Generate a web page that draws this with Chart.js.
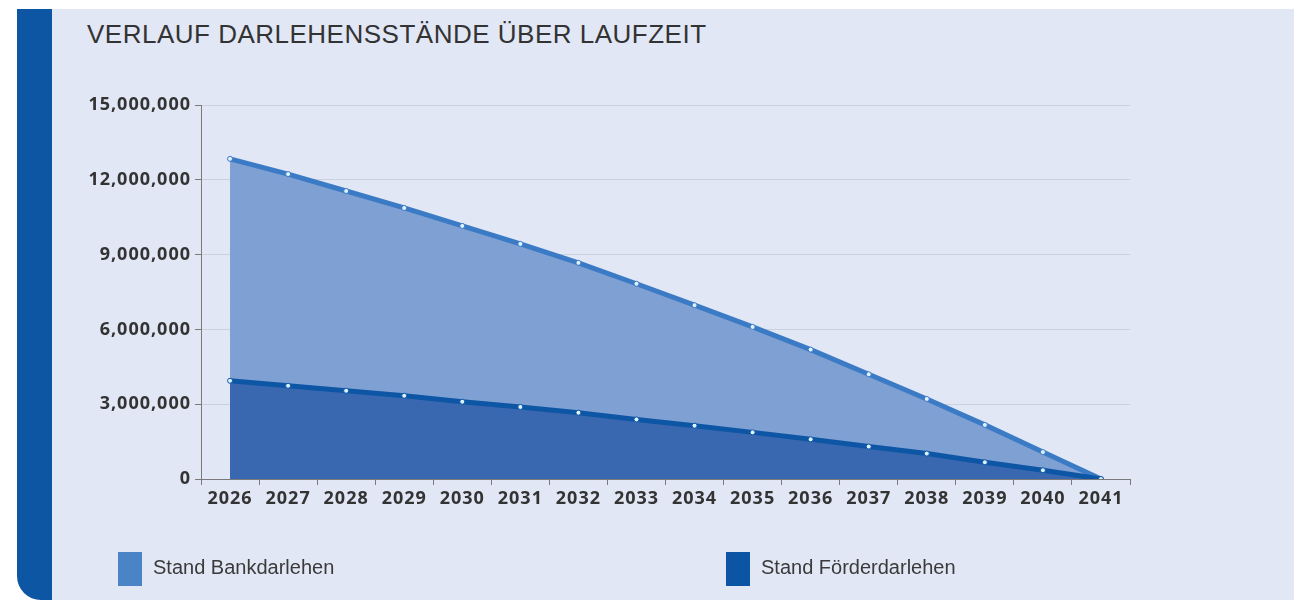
<!DOCTYPE html>
<html lang="de">
<head>
<meta charset="utf-8">
<title>Verlauf Darlehensstände über Laufzeit</title>
<script src="https://cdn.jsdelivr.net/npm/chart.js"></script>
<style>
    html, body {
        margin: 0;
        padding: 0;
        width: 1294px;
        height: 600px;
        overflow: hidden;
        background: #ffffff;
        font-family: "Liberation Sans", Arial, sans-serif;
    }
    .frame {
        position: absolute;
        left: 17px;
        top: 9px;
        width: 1277px;
        height: 591px;
        background: #0c56a4;
        border-bottom-left-radius: 24px;
        overflow: hidden;
    }
    .panel {
        position: absolute;
        left: 35px;
        top: 0;
        right: 0;
        bottom: 0;
        background: #e2e7f5;
    }
    .title {
        position: absolute;
        left: 87px;
        top: 21px;
        font-size: 26px;
        line-height: 26px;
        letter-spacing: 0.5px;
        color: #333333;
        white-space: nowrap;
    }
    #chartWrap {
        position: absolute;
        left: 0;
        top: 0;
        width: 1294px;
        height: 600px;
    }
    .legend-item {
        position: absolute;
        top: 552px;
        height: 34px;
    }
    .legend-item .swatch {
        position: absolute;
        left: 0;
        top: 0;
        width: 24px;
        height: 34px;
    }
    .legend-item .label {
        position: absolute;
        left: 35px;
        top: 5px;
        font-size: 20px;
        line-height: 20px;
        color: #3a3a3a;
        white-space: nowrap;
    }
</style>
</head>
<body>
<div class="frame"><div class="panel"></div></div>
<div class="title">VERLAUF DARLEHENSSTÄNDE ÜBER LAUFZEIT</div>
<div id="chartWrap"><canvas id="loanChart"></canvas></div>
<div id="legend"></div>

<script>
// Jahre der Laufzeit
const years = ["2026", "2027", "2028", "2029", "2030", "2031", "2032", "2033",
               "2034", "2035", "2036", "2037", "2038", "2039", "2040", "2041"];

// Restschuld Bankdarlehen (EUR)
const bankLoan = [12840000, 12230000, 11550000, 10870000, 10150000, 9430000, 8670000, 7830000,
                  6970000, 6100000, 5190000, 4200000, 3210000, 2170000, 1080000, 0];

// Restschuld Förderdarlehen (EUR)
const promoLoan = [3940000, 3740000, 3540000, 3340000, 3100000, 2890000, 2660000, 2390000,
                   2140000, 1870000, 1590000, 1300000, 1020000, 670000, 350000, 0];

// Achsenbeschriftung y
const yTicks = [0, 3000000, 6000000, 9000000, 12000000, 15000000];

const legendItems = [
    { text: "Stand Bankdarlehen", color: "#4a84c7", left: 118 },
    { text: "Stand Förderdarlehen", color: "#0b55a4", left: 726 }
];

const tickFont = { family: "'Open Sans', sans-serif", size: 18, weight: "bold" };

document.addEventListener("DOMContentLoaded", () => {
    buildLegend();
    drawChart();
});

// Legende unter dem Diagramm
function buildLegend() {
    const container = document.getElementById("legend");
    legendItems.forEach(item => {
        const el = document.createElement("div");
        el.className = "legend-item";
        el.style.left = item.left + "px";
        el.innerHTML = `
            <div class="swatch" style="background:${item.color}"></div>
            <div class="label">${item.text}</div>
        `;
        container.appendChild(el);
    });
}

// etwas breiter laufende Achsenschrift
const wideTicks = {
    id: "wideTicks",
    beforeDraw(chart) {
        chart.ctx.letterSpacing = "1px";
    }
};

function drawChart() {
    const ctx = document.getElementById("loanChart").getContext("2d");

    new Chart(ctx, {
        type: "line",
        data: {
            labels: years,
            datasets: [
                {
                    label: "Stand Bankdarlehen",
                    data: bankLoan,
                    order: 2,
                    fill: "origin",
                    backgroundColor: "#7fa0d2",
                    borderColor: "#3b7bc5",
                    borderWidth: 5,
                    tension: 0,
                    pointRadius: 2.5,
                    pointBorderWidth: 1,
                    pointBackgroundColor: "#dff2ff",
                    pointBorderColor: "#3b7bc5"
                },
                {
                    label: "Stand Förderdarlehen",
                    data: promoLoan,
                    order: 1,
                    fill: "origin",
                    backgroundColor: "#3a68b0",
                    borderColor: "#0d56a5",
                    borderWidth: 5,
                    tension: 0,
                    pointRadius: 2.5,
                    pointBorderWidth: 1,
                    pointBackgroundColor: "#dff2ff",
                    pointBorderColor: "#0d56a5"
                }
            ]
        },
        plugins: [wideTicks],
        options: {
            responsive: true,
            maintainAspectRatio: false,
            animation: false,
            layout: {
                padding: { left: 0, top: 105, right: 164, bottom: 81 }
            },
            plugins: {
                legend: { display: false },
                tooltip: { enabled: false }
            },
            scales: {
                x: {
                    type: "category",
                    offset: true,
                    afterFit: scale => { scale.height = 40; },
                    grid: {
                        offset: true,
                        drawOnChartArea: false,
                        drawTicks: true,
                        tickLength: 6,
                        tickColor: "#7a7a7a"
                    },
                    border: { color: "#7a7a7a", width: 1 },
                    ticks: {
                        color: "#333333",
                        font: tickFont,
                        padding: 3,
                        maxRotation: 0,
                        autoSkip: false
                    }
                },
                y: {
                    min: 0,
                    max: 15000000,
                    afterFit: scale => { scale.width = 201; },
                    afterBuildTicks: axis => {
                        axis.ticks = yTicks.map(v => ({ value: v }));
                    },
                    grid: {
                        color: "#cbd0dd",
                        lineWidth: 1,
                        drawTicks: true,
                        tickLength: 6,
                        tickColor: "#7a7a7a"
                    },
                    border: { color: "#7a7a7a", width: 1 },
                    ticks: {
                        color: "#333333",
                        font: tickFont,
                        padding: 4,
                        callback: value => value.toLocaleString("en-US")
                    }
                }
            }
        }
    });
}
</script>
</body>
</html>
